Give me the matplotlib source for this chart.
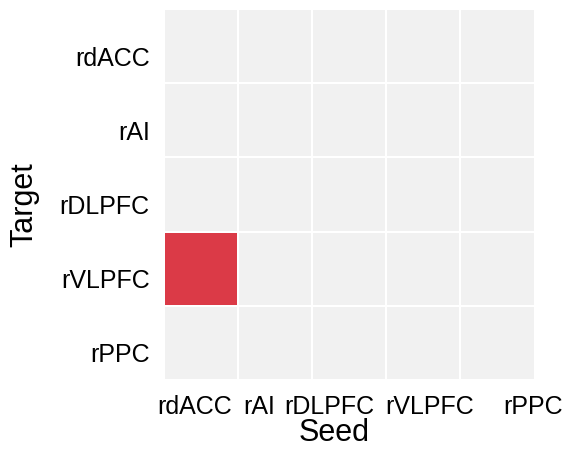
import matplotlib
matplotlib.use("Agg")
import matplotlib.pyplot as plt
import matplotlib.transforms as mtrans
from matplotlib.colors import ListedColormap
import numpy as np

plt.rcParams['font.family'] = ['Liberation Sans', 'DejaVu Sans']

seeds = ["rdACC", "rAI", "rDLPFC", "rVLPFC", "rPPC"]
targets = ["rdACC", "rAI", "rDLPFC", "rVLPFC", "rPPC"]
# 1 = significant connection, rows = target, cols = seed
sig = np.array([
    [0, 0, 0, 0, 0],
    [0, 0, 0, 0, 0],
    [0, 0, 0, 0, 0],
    [1, 0, 0, 0, 0],
    [0, 0, 0, 0, 0],
])

# where the seed labels sit under the panel (as in the original)
xlab_pos = [0.42, 1.29, 2.23, 3.58, 4.98]

fig = plt.figure(figsize=(5.67, 4.54), dpi=100)
ax = fig.add_axes([0.2884, 0.163, 0.6543, 0.817])

cmap = ListedColormap(["#F1F1F1", "#DB3A47"])
ax.pcolormesh(np.arange(len(seeds) + 1), np.arange(len(targets) + 1), sig,
              cmap=cmap, vmin=0, vmax=1, edgecolors="white", linewidth=1.3)
ax.set_xlim(0, len(seeds))
ax.set_ylim(len(targets), 0)

ax.set_xticks(xlab_pos)
ax.set_xticklabels(seeds, fontsize=18)
ax.set_yticks(np.arange(len(targets)) + 0.5)
ax.set_yticklabels(targets, fontsize=18)
ax.tick_params(axis="both", length=0)
ax.tick_params(axis="x", pad=11)
ax.tick_params(axis="y", pad=10)
shift = mtrans.ScaledTranslation(0, -10 / 100, fig.dpi_scale_trans)
for lab in ax.get_yticklabels():
    lab.set_transform(lab.get_transform() + shift)

for s in ax.spines.values():
    s.set_visible(False)

ax.set_xlabel("Seed", fontsize=22)
ax.set_ylabel("Target", fontsize=22)
ax.xaxis.set_label_coords(0.46, -0.103)
ax.yaxis.set_label_coords(-0.335, 0.474)

fig.savefig("out.png", dpi=100)
